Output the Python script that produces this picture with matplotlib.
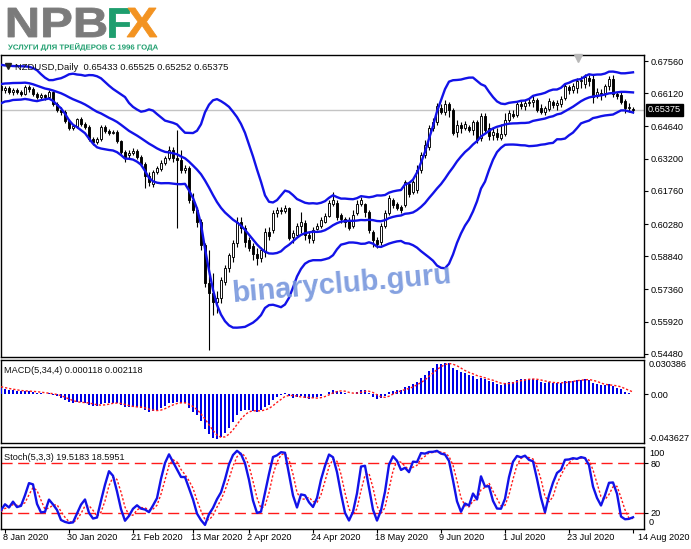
import numpy as np
import pandas as pd
import matplotlib
matplotlib.use("Agg")
import matplotlib.pyplot as plt
from matplotlib.textpath import TextPath
from matplotlib.font_manager import FontProperties
from matplotlib.patches import PathPatch
from matplotlib.transforms import Affine2D, blended_transform_factory

# ---------------- data ----------------
symbol_header = "NZDUSD,Daily  0.65433 0.65525 0.65252 0.65375"
macd_header = "MACD(5,34,4) 0.000118 0.002118"
stoch_header = "Stoch(5,3,3) 19.5183 18.5951"

# warm-up history (Nov 2019 - 6 Jan 2020), used only for the indicators
warm_dates = pd.bdate_range("2019-11-01", "2020-01-06")
warm_close = [0.6420, 0.6415, 0.6380, 0.6395, 0.6370, 0.6345, 0.6340, 0.6360, 0.6375, 0.6390, 0.6400,
              0.6395, 0.6388, 0.6398, 0.6385, 0.6392, 0.6405, 0.6398, 0.6415, 0.6420, 0.6418,
              0.6470, 0.6495, 0.6510, 0.6530, 0.6515, 0.6530, 0.6550, 0.6585, 0.6605, 0.6598, 0.6612,
              0.6605, 0.6618, 0.6680, 0.6705, 0.6722, 0.6735, 0.6718, 0.6690, 0.6668, 0.6660, 0.6652,
              0.6655, 0.6648, 0.6642, 0.6640]
warm_high = [0.6445, 0.6432, 0.6420, 0.6410, 0.6398, 0.6372, 0.6358, 0.6375, 0.6392, 0.6408, 0.6418,
             0.6412, 0.6405, 0.6412, 0.6405, 0.6408, 0.6420, 0.6418, 0.6430, 0.6438, 0.6435,
             0.6480, 0.6505, 0.6522, 0.6545, 0.6540, 0.6542, 0.6562, 0.6598, 0.6625, 0.6620, 0.6628,
             0.6622, 0.6630, 0.6692, 0.6718, 0.6738, 0.6750, 0.6742, 0.6725, 0.6698, 0.6680, 0.6672,
             0.6668, 0.6665, 0.6658, 0.6652]
warm_low = [0.6400, 0.6398, 0.6362, 0.6372, 0.6355, 0.6330, 0.6322, 0.6338, 0.6355, 0.6372, 0.6382,
            0.6378, 0.6372, 0.6380, 0.6368, 0.6375, 0.6388, 0.6382, 0.6398, 0.6405, 0.6402,
            0.6415, 0.6465, 0.6490, 0.6505, 0.6505, 0.6512, 0.6525, 0.6545, 0.6580, 0.6585, 0.6592,
            0.6595, 0.6600, 0.6615, 0.6675, 0.6698, 0.6715, 0.6705, 0.6682, 0.6660, 0.6650, 0.6640,
            0.6645, 0.6638, 0.6630, 0.6628]

# visible daily bars 7 Jan 2020 - 14 Aug 2020
dates = pd.bdate_range("2020-01-07", "2020-08-14")
opens = [0.6645, 0.6627, 0.6636, 0.6618, 0.6627, 0.6618, 0.6609, 0.6640, 0.6631, 0.6609,
         0.6596, 0.6604, 0.6596, 0.6618, 0.6564, 0.6537, 0.6529, 0.6488, 0.6457, 0.6466,
         0.6497, 0.6475, 0.6462, 0.6408, 0.6395, 0.6408, 0.6462, 0.6444, 0.6435, 0.6439,
         0.6399, 0.6350, 0.6336, 0.6345, 0.6354, 0.6327, 0.6296, 0.6243, 0.6207, 0.6261,
         0.6274, 0.6301, 0.6323, 0.6359, 0.6323, 0.6314, 0.6270, 0.6278, 0.6136, 0.6091,
         0.6037, 0.5935, 0.5765, 0.5718, 0.5680, 0.5700, 0.5769, 0.5832, 0.5881, 0.5943,
         0.6037, 0.6010, 0.5957, 0.5930, 0.5894, 0.5876, 0.5903, 0.5993, 0.6002, 0.6077,
         0.6091, 0.6086, 0.6100, 0.5970, 0.5979, 0.6019, 0.6033, 0.5979, 0.5957, 0.6006,
         0.6019, 0.6037, 0.6064, 0.6118, 0.6122, 0.6068, 0.6051, 0.6046, 0.6019, 0.6077,
         0.6118, 0.6118, 0.6082, 0.5993, 0.5957, 0.5948, 0.6019, 0.6077, 0.6136, 0.6118,
         0.6104, 0.6113, 0.6207, 0.6171, 0.6180, 0.6270, 0.6336, 0.6372, 0.6457, 0.6484,
         0.6546, 0.6529, 0.6564, 0.6537, 0.6439, 0.6470, 0.6457, 0.6462, 0.6448, 0.6484,
         0.6412, 0.6511, 0.6457, 0.6426, 0.6435, 0.6412, 0.6430, 0.6493, 0.6520, 0.6515,
         0.6564, 0.6555, 0.6569, 0.6573, 0.6582, 0.6546, 0.6529, 0.6542, 0.6573, 0.6560,
         0.6564, 0.6591, 0.6640, 0.6627, 0.6636, 0.6667, 0.6654, 0.6680, 0.6676, 0.6600,
         0.6613, 0.6613, 0.6645, 0.6676, 0.6609, 0.6604, 0.6578, 0.6546, 0.65433]
highs = [0.6663, 0.6645, 0.6645, 0.6636, 0.6636, 0.6627, 0.6649, 0.6649, 0.6640, 0.6618,
         0.6613, 0.6609, 0.6627, 0.6622, 0.6573, 0.6551, 0.6537, 0.6497, 0.6475, 0.6502,
         0.6506, 0.6484, 0.6470, 0.6417, 0.6417, 0.6470, 0.6470, 0.6453, 0.6448, 0.6448,
         0.6403, 0.6359, 0.6359, 0.6368, 0.6363, 0.6336, 0.6305, 0.6261, 0.6270, 0.6287,
         0.6314, 0.6332, 0.6377, 0.6372, 0.6448, 0.6359, 0.6292, 0.6287, 0.6167, 0.6104,
         0.6051, 0.5943, 0.5912, 0.5809, 0.5730, 0.5792, 0.5845, 0.5899, 0.5957, 0.6060,
         0.6060, 0.6024, 0.5970, 0.5943, 0.5921, 0.5926, 0.6010, 0.6015, 0.6091, 0.6104,
         0.6104, 0.6113, 0.6104, 0.6002, 0.6033, 0.6082, 0.6046, 0.5993, 0.6015, 0.6033,
         0.6060, 0.6077, 0.6136, 0.6171, 0.6136, 0.6077, 0.6060, 0.6060, 0.6091, 0.6136,
         0.6149, 0.6122, 0.6091, 0.6002, 0.5970, 0.6033, 0.6091, 0.6158, 0.6144, 0.6127,
         0.6113, 0.6225, 0.6216, 0.6225, 0.6292, 0.6350, 0.6403, 0.6470, 0.6502, 0.6569,
         0.6564, 0.6582, 0.6573, 0.6546, 0.6493, 0.6484, 0.6488, 0.6470, 0.6493, 0.6493,
         0.6524, 0.6524, 0.6479, 0.6462, 0.6457, 0.6475, 0.6524, 0.6537, 0.6537, 0.6573,
         0.6578, 0.6582, 0.6591, 0.6600, 0.6591, 0.6564, 0.6555, 0.6591, 0.6582, 0.6582,
         0.6600, 0.6654, 0.6649, 0.6658, 0.6680, 0.6689, 0.6698, 0.6694, 0.6698, 0.6636,
         0.6631, 0.6654, 0.6689, 0.6694, 0.6618, 0.6622, 0.6587, 0.6569, 0.65525]
lows = [0.6618, 0.6613, 0.6609, 0.6604, 0.6609, 0.6600, 0.6604, 0.6618, 0.6600, 0.6587,
        0.6587, 0.6582, 0.6591, 0.6555, 0.6529, 0.6515, 0.6479, 0.6448, 0.6448, 0.6457,
        0.6466, 0.6453, 0.6399, 0.6381, 0.6386, 0.6399, 0.6435, 0.6426, 0.6430, 0.6390,
        0.6341, 0.6305, 0.6323, 0.6336, 0.6319, 0.6287, 0.6189, 0.6198, 0.6194, 0.6252,
        0.6265, 0.6292, 0.6314, 0.6305, 0.6010, 0.6256, 0.6256, 0.6122, 0.6077, 0.6015,
        0.5912, 0.5747, 0.5466, 0.5622, 0.5631, 0.5676, 0.5756, 0.5814, 0.5859, 0.5926,
        0.5988, 0.5926, 0.5908, 0.5868, 0.5845, 0.5859, 0.5881, 0.5957, 0.5988, 0.6060,
        0.6073, 0.6077, 0.5957, 0.5943, 0.5970, 0.5988, 0.5957, 0.5943, 0.5943, 0.6002,
        0.6010, 0.6033, 0.6060, 0.6109, 0.6046, 0.6033, 0.6015, 0.6002, 0.6010, 0.6068,
        0.6109, 0.6060, 0.5988, 0.5926, 0.5921, 0.5935, 0.6010, 0.6068, 0.6100, 0.6091,
        0.6077, 0.6104, 0.6149, 0.6162, 0.6167, 0.6256, 0.6323, 0.6359, 0.6444, 0.6470,
        0.6520, 0.6515, 0.6506, 0.6426, 0.6417, 0.6435, 0.6448, 0.6439, 0.6426, 0.6390,
        0.6399, 0.6435, 0.6403, 0.6403, 0.6403, 0.6403, 0.6421, 0.6484, 0.6502, 0.6506,
        0.6542, 0.6537, 0.6555, 0.6551, 0.6529, 0.6520, 0.6515, 0.6533, 0.6546, 0.6537,
        0.6551, 0.6582, 0.6609, 0.6613, 0.6613, 0.6636, 0.6636, 0.6645, 0.6569, 0.6591,
        0.6582, 0.6596, 0.6627, 0.6596, 0.6587, 0.6564, 0.6524, 0.6529, 0.65252]
closes = [0.6627, 0.6636, 0.6618, 0.6627, 0.6618, 0.6609, 0.6640, 0.6631, 0.6609, 0.6596,
          0.6604, 0.6596, 0.6618, 0.6564, 0.6537, 0.6529, 0.6488, 0.6457, 0.6466, 0.6497,
          0.6475, 0.6462, 0.6408, 0.6395, 0.6408, 0.6462, 0.6444, 0.6435, 0.6439, 0.6399,
          0.6350, 0.6323, 0.6345, 0.6354, 0.6327, 0.6296, 0.6243, 0.6216, 0.6261, 0.6278,
          0.6301, 0.6323, 0.6359, 0.6323, 0.6314, 0.6270, 0.6278, 0.6136, 0.6091, 0.6037,
          0.5935, 0.5765, 0.5718, 0.5680, 0.5700, 0.5778, 0.5832, 0.5890, 0.5943, 0.6037,
          0.6010, 0.5948, 0.5921, 0.5894, 0.5876, 0.5912, 0.5993, 0.5975, 0.6077, 0.6091,
          0.6086, 0.6100, 0.5966, 0.5988, 0.6019, 0.6037, 0.5979, 0.5966, 0.6002, 0.6019,
          0.6046, 0.6064, 0.6122, 0.6136, 0.6060, 0.6051, 0.6037, 0.6010, 0.6068, 0.6118,
          0.6136, 0.6082, 0.6002, 0.5957, 0.5939, 0.6019, 0.6077, 0.6144, 0.6113, 0.6100,
          0.6091, 0.6216, 0.6162, 0.6216, 0.6270, 0.6336, 0.6381, 0.6457, 0.6484, 0.6555,
          0.6529, 0.6564, 0.6537, 0.6435, 0.6470, 0.6457, 0.6475, 0.6448, 0.6484, 0.6403,
          0.6511, 0.6448, 0.6421, 0.6439, 0.6417, 0.6430, 0.6493, 0.6524, 0.6511, 0.6564,
          0.6555, 0.6569, 0.6573, 0.6582, 0.6537, 0.6529, 0.6546, 0.6578, 0.6560, 0.6569,
          0.6587, 0.6645, 0.6627, 0.6645, 0.6667, 0.6671, 0.6685, 0.6667, 0.6596, 0.6618,
          0.6604, 0.6645, 0.6676, 0.6609, 0.6600, 0.6573, 0.6546, 0.6551, 0.65375]

price_ticks = [0.67560, 0.66120, 0.64640, 0.63200, 0.61760, 0.60280, 0.58840, 0.57360, 0.55920, 0.54480]
macd_range = [-0.043627, 0.030386]
date_labels = ["2020-01-08", "2020-01-30", "2020-02-21", "2020-03-13", "2020-04-02", "2020-04-24",
               "2020-05-18", "2020-06-09", "2020-07-01", "2020-07-23", "2020-08-14"]

# ---------------- indicators ----------------
nw = len(warm_close)
c_all = pd.Series(list(warm_close) + list(closes))
h_all = pd.Series(list(warm_high) + list(highs))
l_all = pd.Series(list(warm_low) + list(lows))

mid = c_all.rolling(20).mean()
sd = c_all.rolling(20).std(ddof=0)
bb_up, bb_lo = mid + 2 * sd, mid - 2 * sd

macd = c_all.ewm(span=5, adjust=False).mean() - c_all.ewm(span=34, adjust=False).mean()
macd_sig = macd.rolling(4).mean()

ll = l_all.rolling(5).min()
hh = h_all.rolling(5).max()
k = 100 * (c_all - ll).rolling(3).sum() / (hh - ll).rolling(3).sum()
d = k.rolling(3).mean()

sl = slice(nw, None)
mid, bb_up, bb_lo = mid[sl].values, bb_up[sl].values, bb_lo[sl].values
macd, macd_sig = macd[sl].values, macd_sig[sl].values
k, d = k[sl].values, d[sl].values

n = len(closes)
x = np.arange(n)
o = np.array(opens); hi = np.array(highs); lo = np.array(lows); c = np.array(closes)

# ---------------- figure ----------------
W, H = 691, 549
fig = plt.figure(figsize=(W / 100, H / 100), dpi=100)
fig.patch.set_facecolor("white")
FONT = "Liberation Sans"
FS = 6.6


def px_axes(x0, y0, x1, y1):
    return fig.add_axes([x0 / W, 1 - y1 / H, (x1 - x0) / W, (y1 - y0) / H])


X0, X1 = 0.5, 644
ax_p = px_axes(X0, 55, X1, 357)
ax_m = px_axes(X0, 360, X1, 443)
ax_s = px_axes(X0, 447, X1, 529)

xlim = (-0.125, (X1 - 1) / 4.0)
BLUE = "#1212e8"

for ax in (ax_p, ax_m, ax_s):
    ax.set_xlim(*xlim)
    ax.set_facecolor("white")
    for s in ax.spines.values():
        s.set_color("black")
        s.set_linewidth(1.0)
    ax.yaxis.tick_right()
    ax.tick_params(axis="y", which="both", length=3, width=0.8, pad=2, labelsize=FS,
                   direction="out", colors="black")
    ax.tick_params(axis="x", bottom=False, labelbottom=False)

# ---- price panel ----
ax_p.set_ylim(0.54343, 0.67830)
ax_p.axhline(closes[-1], color="#c4c4c4", lw=1.0, zorder=1)
ax_p.vlines(x, lo, hi, color="black", lw=0.8, zorder=3)
body_bot = np.minimum(o, c)
body_h = np.maximum(np.abs(c - o), 0.00006)
fill = np.where(c >= o, "white", "black")
ax_p.bar(x, body_h, bottom=body_bot, width=0.64, color=fill, edgecolor="black",
         linewidth=0.65, zorder=4)
for band in (bb_up, mid, bb_lo):
    ax_p.plot(x, band, color=BLUE, lw=1.7, zorder=5)
ax_p.set_yticks(price_ticks)
ax_p.set_yticklabels([f"{v:.5f}" for v in price_ticks], fontfamily=FONT)
ax_p.text(1.0 + 4 / (X1 - X0), closes[-1], f"{closes[-1]:.5f}",
          transform=blended_transform_factory(ax_p.transAxes, ax_p.transData),
          ha="left", va="center", fontsize=FS, fontfamily=FONT, color="white",
          bbox=dict(boxstyle="square,pad=0.18", fc="black", ec="black"), clip_on=False, zorder=10)
ax_p.text(0.022, 0.975, symbol_header, transform=ax_p.transAxes, ha="left", va="top",
          fontsize=6.8, fontfamily=FONT, color="#111111", zorder=10)
ax_p.plot([0.012], [0.962], marker="v", ms=4.5, color="#222222", transform=ax_p.transAxes,
          clip_on=False, zorder=10)

# ---- MACD panel ----
ax_m.set_ylim(*macd_range)
ax_m.bar(x, macd, width=0.64, color="#0000e6", zorder=3)
ax_m.plot(x, macd_sig, color="#ff1a1a", lw=1.0, ls=(0, (1.6, 1.4)), zorder=4)
ax_m.set_yticks([0.0])
ax_m.set_yticklabels(["0.00"], fontfamily=FONT)
tr_m = blended_transform_factory(ax_m.transAxes, ax_m.transData)
pad_x = 1.0 + 5 / (X1 - X0)
ax_m.text(pad_x, macd_range[1], f"{macd_range[1]:.6f}", transform=tr_m, ha="left", va="top",
          fontsize=FS, fontfamily=FONT, clip_on=False)
ax_m.text(pad_x, macd_range[0], f"{macd_range[0]:.6f}", transform=tr_m, ha="left", va="bottom",
          fontsize=FS, fontfamily=FONT, clip_on=False)
ax_m.text(0.006, 0.93, macd_header, transform=ax_m.transAxes, ha="left", va="top",
          fontsize=FS, fontfamily=FONT, color="#111111")

# ---- Stochastic panel ----
ax_s.set_ylim(0, 100)
for lvl in (80, 20):
    ax_s.axhline(lvl, color="#ff1a1a", lw=1.0, ls=(0, (8, 4)), zorder=2)
ax_s.plot(x, d, color="#ff1a1a", lw=1.0, ls=(0, (1.6, 1.4)), zorder=3)
ax_s.plot(x, k, color=BLUE, lw=1.7, zorder=4)
ax_s.set_yticks([80, 20])
ax_s.set_yticklabels(["80", "20"], fontfamily=FONT)
tr_s = blended_transform_factory(ax_s.transAxes, ax_s.transData)
ax_s.text(pad_x, 98, "100", transform=tr_s, ha="left", va="top", fontsize=FS, fontfamily=FONT, clip_on=False)
ax_s.text(pad_x, 2, "0", transform=tr_s, ha="left", va="bottom", fontsize=FS, fontfamily=FONT, clip_on=False)
ax_s.text(0.006, 0.93, stoch_header, transform=ax_s.transAxes, ha="left", va="top",
          fontsize=FS, fontfamily=FONT, color="#111111")

# date axis
pos = [dates.get_loc(pd.Timestamp(dl)) for dl in date_labels]
ax_s.set_xticks(pos)
ax_s.tick_params(axis="x", bottom=True, length=3, width=0.8, direction="out", labelbottom=False)
tr_x = blended_transform_factory(ax_s.transData, fig.transFigure)
for p, dl in zip(pos, date_labels):
    ts = pd.Timestamp(dl)
    lab = f"{ts.day} {ts.strftime('%b %Y')}"
    off = 1.3 if p == n - 1 else -0.6
    ax_s.text(p + off, 1 - 538 / H, lab, transform=tr_x, ha="left", va="center",
              fontsize=FS, fontfamily=FONT, clip_on=False)

# ---------------- overlay: logo & watermark ----------------
ov = fig.add_axes([0, 0, 1, 1], zorder=20)
ov.set_xlim(0, W)
ov.set_ylim(H, 0)
ov.axis("off")
ov.patch.set_alpha(0)


def fit_text(s, x0, y0, x1, y1, color, edge=0.0, family=FONT, weight="bold"):
    tp = TextPath((0, 0), s, size=20, prop=FontProperties(family=family, weight=weight))
    bb = tp.get_extents()
    sx = (x1 - x0) / bb.width
    sy = (y1 - y0) / bb.height
    tr = Affine2D().translate(-bb.x0, -bb.y0).scale(sx, -sy).translate(x0, y1)
    ov.add_patch(PathPatch(tr.transform_path(tp), fc=color,
                           ec=color if edge > 0 else "none", lw=edge))


fit_text("NPB", 8, 8, 106, 37, "#7b7b7b", edge=0.6)
fit_text("F", 109, 8, 129, 37, "#1e9e6e", edge=0.6)
fit_text("X", 127, 8, 157, 37, "#f39321", edge=0.6)
fit_text("УСЛУГИ ДЛЯ ТРЕЙДЕРОВ С 1996 ГОДА", 8, 43, 158, 51, "#1e9e6e")

ov.text(342, 284, "binaryclub.guru", fontsize=21, fontweight="bold", fontfamily=FONT,
        color="#7797dd", alpha=0.9, rotation=5, ha="center", va="center", rotation_mode="anchor")
ov.plot([578], [57.5], marker="v", ms=6, color="#b8b8b8", mec="#b8b8b8")

fig.savefig("out.png", dpi=100, facecolor="white")
